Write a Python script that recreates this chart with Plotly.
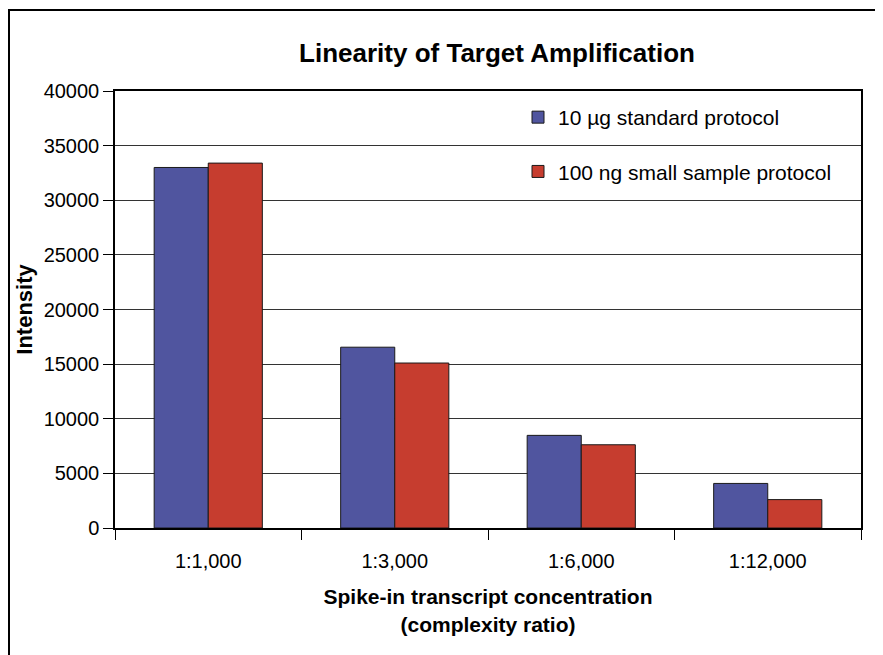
"""Linearity of target amplification: grouped bar chart."""

import plotly.graph_objects as go

# data
categories = ['1:1,000', '1:3,000', '1:6,000', '1:12,000']
standard_protocol = [33000, 16550, 8480, 4080]
small_sample_protocol = [33400, 15100, 7620, 2600]
series_names = ['10 µg standard protocol', '100 ng small sample protocol']

BLUE = '#50559f'
RED = '#c63d2f'
FONT = 'Liberation Sans, Arial, sans-serif'

# the page body has an 8px margin, so the figure is drawn 8px in from the corner
OFF = 8
W, H = 883, 655
ML, MR, MT, MB = 115 - OFF, 30, 91 - OFF, 135
pw, ph = W - ML - MR, H - MT - MB


def px_x(sx):
    # screen x -> paper x
    return (sx - OFF - ML) / pw


def px_y(sy):
    # screen y -> paper y
    return (H - MB - (sy - OFF)) / ph


fig = go.Figure()

fig.add_trace(go.Bar(
    x=categories, y=standard_protocol, name=series_names[0],
    legendgroup='a',
    marker=dict(color=BLUE, line=dict(color='#1a1a1a', width=1)),
))
fig.add_trace(go.Bar(
    x=categories, y=small_sample_protocol, name=series_names[1],
    legendgroup='b',
    marker=dict(color=RED, line=dict(color='#1a1a1a', width=1)),
))

fig.update_layout(
    width=W, height=H,
    margin=dict(l=ML, r=MR, t=MT, b=MB),
    paper_bgcolor='white',
    plot_bgcolor='white',
    font=dict(family=FONT, color='black', size=20),
    barmode='group',
    bargap=0.42,
    bargroupgap=0,
    title=dict(
        text='<b>Linearity of Target Amplification</b>',
        font=dict(size=26, family=FONT, color='black'),
        x=px_x(497), xref='paper', xanchor='center',
        y=1 - (53 - OFF) / H, yanchor='middle',
    ),
    legend=dict(
        x=px_x(518), y=px_y(97), xanchor='left', yanchor='top',
        bgcolor='rgba(0,0,0,0)', borderwidth=0,
        font=dict(size=21, family=FONT),
        tracegroupgap=24,
        traceorder='grouped',
    ),
    xaxis=dict(
        type='category',
        tickson='boundaries',
        ticks='outside', ticklen=10, tickcolor='black', tickwidth=1,
        ticklabelstandoff=14,
        showline=True, linecolor='black', linewidth=1.5, mirror=True,
        showgrid=False,
        tickfont=dict(size=20),
        title=dict(
            text='<b>Spike-in transcript concentration<br>(complexity ratio)</b>',
            font=dict(size=21), standoff=19,
        ),
    ),
    yaxis=dict(
        range=[0, 40000],
        dtick=5000,
        tickformat='d',
        ticks='outside', ticklen=10, tickcolor='black', tickwidth=1,
        showline=True, linecolor='black', linewidth=1.5, mirror=True,
        showgrid=True, gridcolor='#333333', gridwidth=1,
        zeroline=False,
        tickfont=dict(size=20),
        title=dict(text='<b>Intensity</b>', font=dict(size=22), standoff=5),
    ),
    shapes=[dict(
        type='rect', xref='paper', yref='paper',
        x0=px_x(9), x1=px_x(881), y0=px_y(680), y1=px_y(10),
        line=dict(color='black', width=2), fillcolor='rgba(0,0,0,0)',
        layer='below',
    )],
)

fig.write_html('out.html')
